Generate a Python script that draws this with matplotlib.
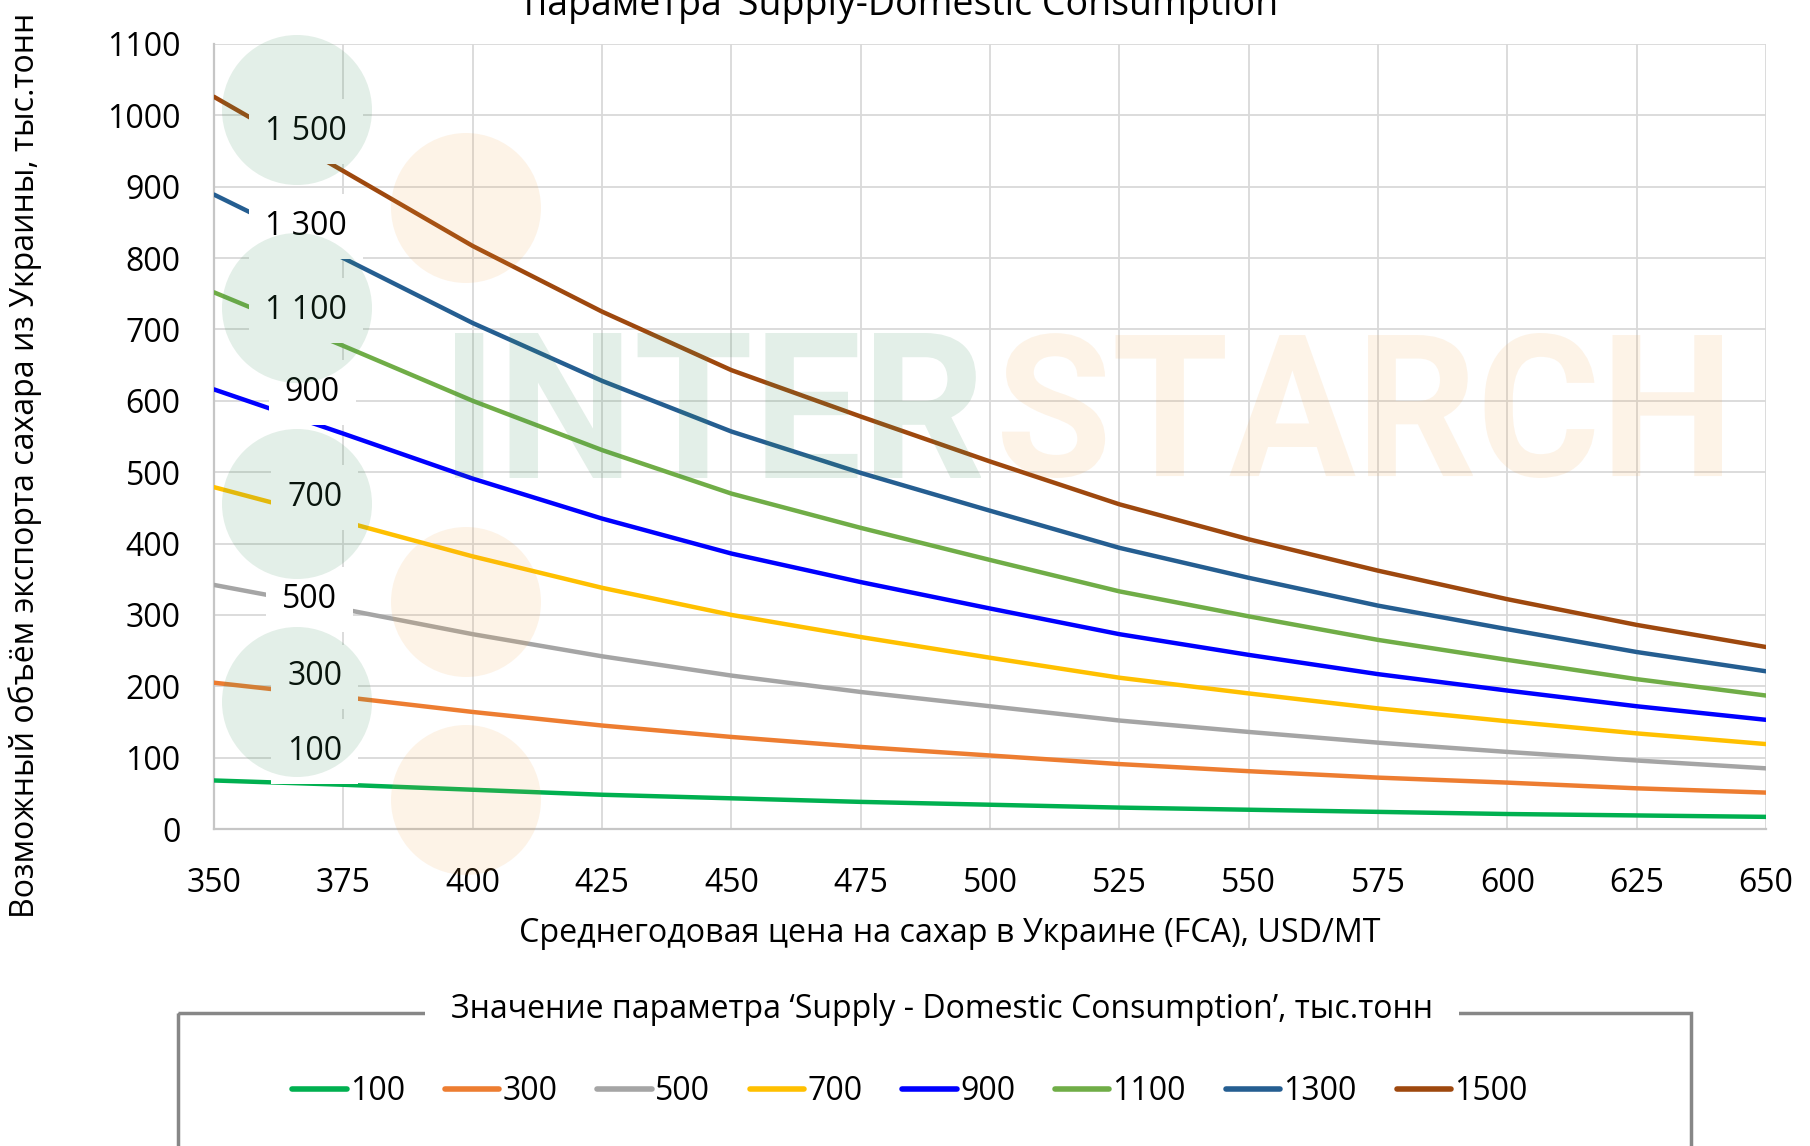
import matplotlib
matplotlib.use("Agg")
import matplotlib.pyplot as plt
from matplotlib.patches import Circle, Rectangle, PathPatch
from matplotlib.textpath import TextPath
from matplotlib.font_manager import FontProperties
from matplotlib.transforms import Affine2D
from matplotlib.lines import Line2D

plt.rcParams['font.family'] = ['Open Sans', 'DejaVu Sans']

# data
prices = [350, 375, 400, 425, 450, 475, 500, 525, 550, 575, 600, 625, 650]
series_names = ['100', '300', '500', '700', '900', '1100', '1300', '1500']
label_texts = ['100', '300', '500', '700', '900', '1 100', '1 300', '1 500']
exp_100 = [68, 62, 55, 48, 43, 38, 34, 30, 27, 24, 21, 19, 17]
exp_300 = [205, 185, 164, 145, 129, 115, 103, 91, 81, 72, 65, 57, 51]
exp_500 = [342, 308, 273, 242, 215, 192, 172, 152, 136, 121, 108, 96, 85]
exp_700 = [479, 431, 382, 338, 300, 269, 240, 212, 190, 169, 151, 134, 119]
exp_900 = [616, 554, 491, 435, 386, 346, 309, 273, 244, 217, 194, 172, 153]
exp_1100 = [752, 677, 600, 531, 470, 422, 377, 333, 298, 265, 237, 210, 187]
exp_1300 = [889, 800, 709, 628, 557, 499, 446, 394, 352, 313, 280, 248, 221]
exp_1500 = [1026, 922, 817, 725, 643, 578, 515, 455, 406, 362, 322, 286, 255]
all_series = [exp_100, exp_300, exp_500, exp_700, exp_900, exp_1100, exp_1300, exp_1500]
colors = ['#00B050', '#ED7D31', '#A5A5A5', '#FFC000', '#0000FF', '#70AD47', '#255E91', '#9E480E']
# data-label anchor positions (x, y in data units)
label_x = [369.5, 369.5, 368.5, 369.5, 369, 367.8, 367.8, 367.8]
label_y = [108, 213, 321, 465, 612, 727, 844, 978]

W, H = 1810, 1146
fig = plt.figure(figsize=(W / 100, H / 100), dpi=100)
ax = fig.add_axes([214 / W, 1 - 829 / H, (1766 - 214) / W, (829 - 44) / H])

for vals, c, name in zip(all_series, colors, series_names):
    ax.plot(prices, vals, color=c, lw=3.2, zorder=3, solid_capstyle='round', label=name)

for txt, lx, ly in zip(label_texts, label_x, label_y):
    ax.text(lx, ly, txt, ha='center', va='center', fontsize=23, color='black', zorder=5,
            bbox=dict(boxstyle='square,pad=0.5', facecolor='white', edgecolor='none'))

ax.set_xlim(350, 650)
ax.set_ylim(0, 1100)
ax.set_xticks(prices)
ax.set_yticks(range(0, 1101, 100))
ax.tick_params(axis='both', length=0, labelsize=23)
ax.tick_params(axis='x', pad=27)
ax.tick_params(axis='y', pad=24)
ax.grid(True, color='#d9d9d9', lw=1.3, zorder=0)
ax.set_axisbelow(True)
for s in ['top', 'right']:
    ax.spines[s].set_visible(False)
for s in ['left', 'bottom']:
    ax.spines[s].set_color('#c6c6c6')
    ax.spines[s].set_linewidth(1.6)

fig.text(25 / W, 1 - 918 / H, 'Возможный объём экспорта сахара из Украины, тыс.тонн',
         rotation=90, ha='center', va='bottom', fontsize=23)
fig.text(950 / W, 1 - 933 / H, 'Среднегодовая цена на сахар в Украине (FCA), USD/MT',
         ha='center', va='center', fontsize=23.2)
fig.text(904 / W, 1 - 15 / H, 'параметра ‘Supply-Domestic Consumption’',
         ha='center', va='baseline', fontsize=27)

# legend with fieldset-style frame
ov = fig.add_axes([0, 0, 1, 1], zorder=10)
ov.set_xlim(0, W)
ov.set_ylim(H, 0)
ov.axis('off')
ov.patch.set_alpha(0)
ov.add_patch(Rectangle((178, 1013), 1691 - 178, 200, fill=False, edgecolor='#878787', lw=2.5))
ov.text(942, 1010, 'Значение параметра ‘Supply - Domestic Consumption’, тыс.тонн',
        ha='center', va='center', fontsize=23,
        bbox=dict(boxstyle='square,pad=0.8', facecolor='white', edgecolor='none'))

handles = [Line2D([], [], color=c, lw=4, solid_capstyle='round') for c in colors]
fig.legend(handles, series_names, loc='center', bbox_to_anchor=(910 / W, 1 - 1092 / H),
           ncol=8, frameon=False, fontsize=23, handlelength=1.7, handletextpad=0.1,
           columnspacing=1.25)

# watermark
green = (0.23, 0.56, 0.36, 0.14)
orange = (0.94, 0.63, 0.25, 0.12)
for cy in [110, 308, 504, 702]:
    ov.add_patch(Circle((297, cy), 75, facecolor=green, edgecolor='none'))
for cy in [208, 602, 800]:
    ov.add_patch(Circle((466, cy), 75, facecolor=orange, edgecolor='none'))

fp = FontProperties(family='Roboto', weight='bold')
for word, x0, x1, col in [('INTER', 455, 981, green), ('STARCH', 1002, 1722, orange)]:
    tp = TextPath((0, 0), word, size=100, prop=fp)
    ext = tp.get_extents()
    sx = (x1 - x0) / ext.width
    sy = (478 - 333) / (ext.height)
    tr = Affine2D().translate(-ext.x0, -ext.y0).scale(sx, -sy).translate(x0, 478)
    ov.add_patch(PathPatch(tr.transform_path(tp), facecolor=col, edgecolor='none'))

fig.savefig('out.png', dpi=100)
